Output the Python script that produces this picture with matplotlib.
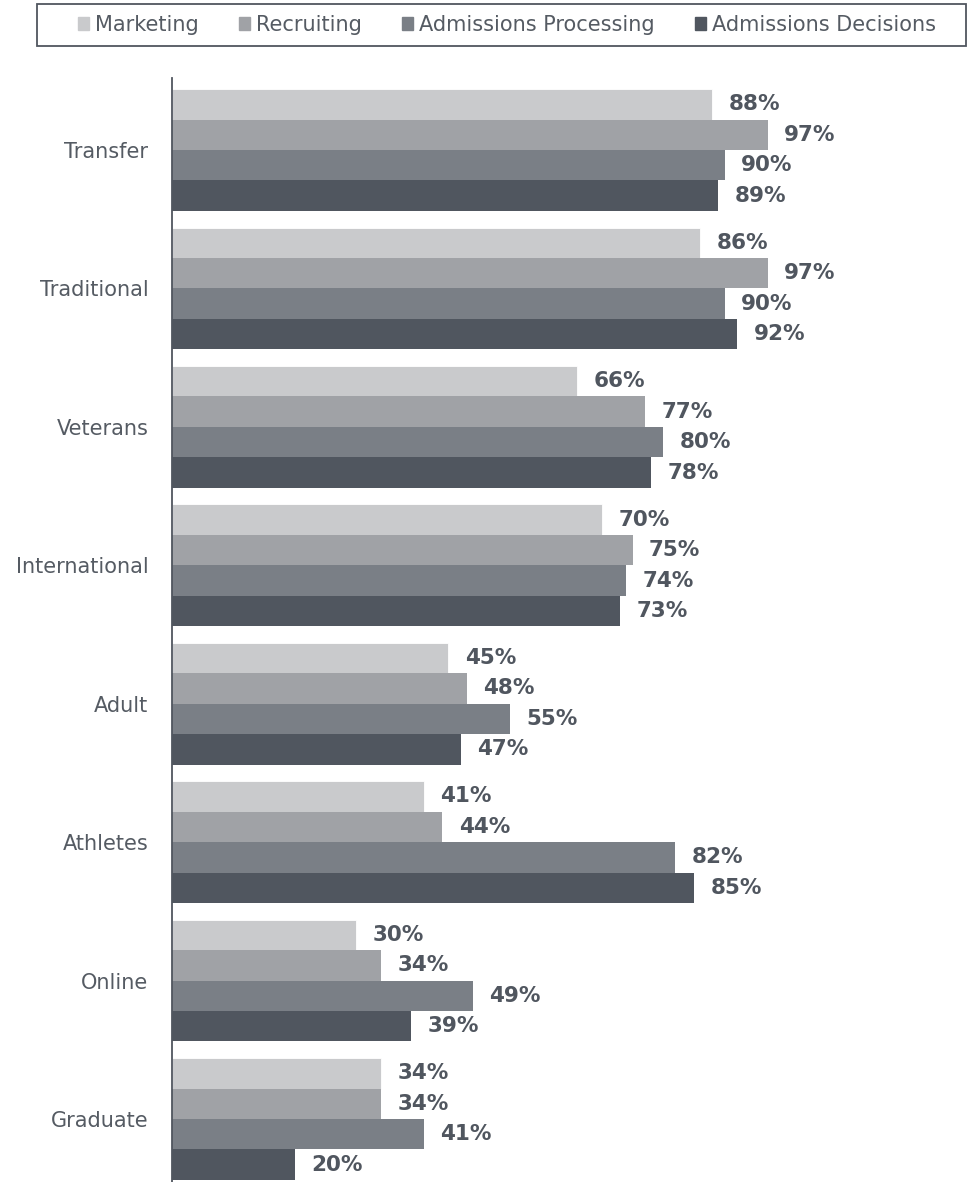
import matplotlib
matplotlib.use("Agg")
import matplotlib.pyplot as plt
from matplotlib.patches import Rectangle
import numpy as np

categories = ["Transfer", "Traditional", "Veterans", "International",
              "Adult", "Athletes", "Online", "Graduate"]
series_names = ["Marketing", "Recruiting", "Admissions Processing", "Admissions Decisions"]
marketing = [88, 86, 66, 70, 45, 41, 30, 34]
recruiting = [97, 97, 77, 75, 48, 44, 34, 34]
processing = [90, 90, 80, 74, 55, 82, 49, 41]
decisions = [89, 92, 78, 73, 47, 85, 39, 20]

colors = ["#C9CACC", "#A0A2A6", "#7A7F86", "#50565F"]
label_color = "#50565F"
text_color = "#555B63"

plt.rcParams["font.family"] = ["DejaVu Sans"]

fig = plt.figure(figsize=(9.75, 11.82), dpi=100)
W, H = 975, 1182
ax = fig.add_axes([172 / W, 0.0, (786 - 172) / W, 1 - 78 / H])

y = np.arange(len(categories))
h = 0.22
all_series = [marketing, recruiting, processing, decisions]
for k, (vals, c) in enumerate(zip(all_series, colors)):
    pos = y + (k - 1.5) * h
    ax.barh(pos, vals, height=h, color=c, edgecolor="white" if k == 0 else c,
            linewidth=0.6 if k == 0 else 0)
    for p, v in zip(pos, vals):
        ax.text(v + 2.7, p, f"{v}%", va="center", ha="left", fontsize=15.5,
                fontweight="bold", color=label_color, clip_on=False)

ax.set_xlim(0, 100)
ax.set_ylim(7.455, -0.52)
ax.set_yticks(y)
ax.set_yticklabels(categories, fontsize=15, color=text_color)
ax.tick_params(axis="y", length=0, pad=17)
ax.set_xticks([])
for s in ["top", "right", "bottom"]:
    ax.spines[s].set_visible(False)
ax.spines["left"].set_color("#50565F")
ax.spines["left"].set_linewidth(1.3)

# legend with a hand-drawn frame
handles = [Rectangle((0, 0), 1, 1, color=c) for c in colors]
leg = fig.legend(handles, series_names, loc="center", bbox_to_anchor=(507 / W, 1 - 25 / H),
                 ncol=4, frameon=False, fontsize=15, handlelength=0.55, handleheight=0.55,
                 handletextpad=0.3, columnspacing=1.9)
for t in leg.get_texts():
    t.set_color(text_color)
fig.patches.append(Rectangle((37 / W, 1 - 46 / H), (966 - 37) / W, 42 / H,
                             transform=fig.transFigure, fill=False,
                             edgecolor="#50565F", linewidth=1.3))

fig.savefig("out.png", dpi=100)
